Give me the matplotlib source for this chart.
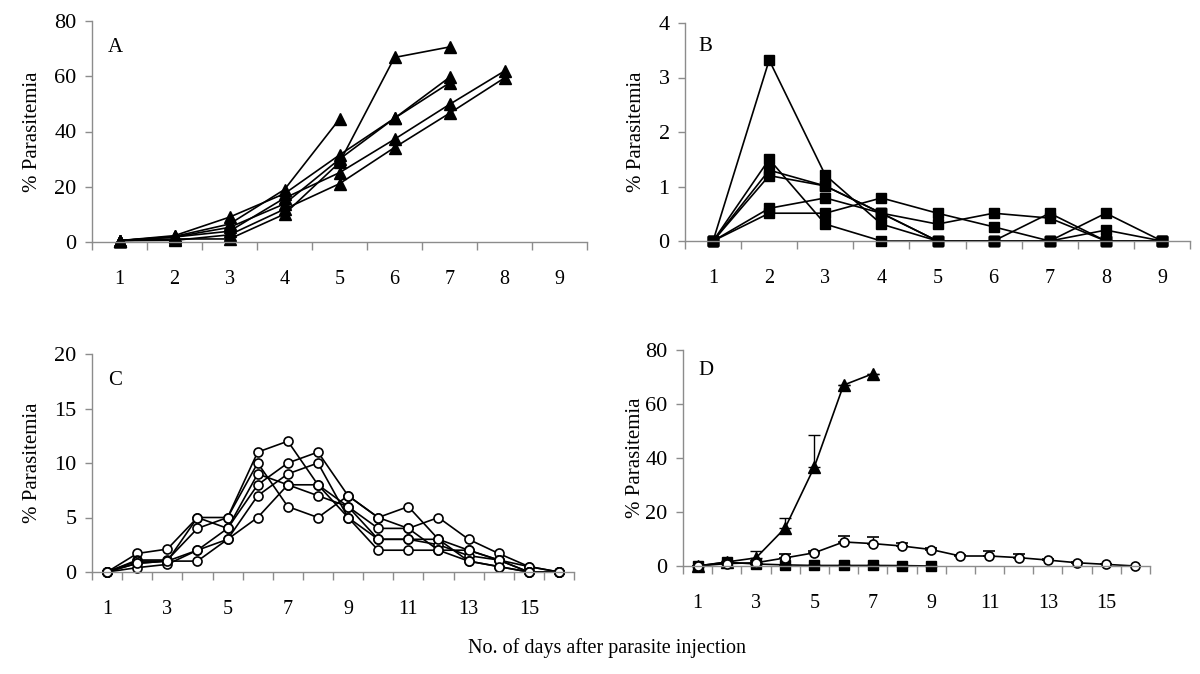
#!/usr/bin/env python3
"""Parasitemia time courses, four panels (A-D), Excel-style category axes."""

import matplotlib

matplotlib.use("Agg")
import matplotlib.pyplot as plt
import numpy as np

plt.rcParams["font.family"] = ["Liberation Serif", "DejaVu Serif"]

# ---- data -------------------------------------------------------------
# Panel A: individual mice, triangles (days 1..n)
a_series = [
    [0.5, 2.0, 6.5, 19.0, 44.5],
    [0.5, 1.1, 1.1, 10.1, 28.8, 66.8, 70.6],
    [0.5, 2.3, 9.0, 17.5, 31.5, 44.8, 59.6],
    [0.5, 1.8, 5.3, 13.8, 30.0, 44.8, 57.6],
    [0.5, 1.8, 3.9, 15.9, 25.1, 37.2, 49.8, 61.9],
    [0.5, 0.6, 2.6, 11.9, 21.1, 34.2, 46.6, 59.4],
]

# Panel B: individual mice, squares (days 1..9)
b_series = [
    [0, 3.32, 1.21, 0.31, 0, 0, 0, 0.51, 0],
    [0, 1.50, 0.31, 0, 0, 0, 0.51, 0, 0],
    [0, 1.30, 1.01, 0.51, 0, 0, 0, 0.20, 0],
    [0, 1.20, 1.01, 0.51, 0, 0, 0, 0, 0],
    [0, 0.60, 0.79, 0.51, 0.31, 0.51, 0.42, 0, 0],
    [0, 0.51, 0.51, 0.79, 0.51, 0.26, 0, 0, 0],
]

# Panel C: individual mice, open circles (days 1..16)
c_series = [
    [0, 1.7, 2.1, 5, 5, 11, 12, 8, 6, 4, 4, 5, 3, 1.7, 0.5, 0],
    [0, 1.1, 1.1, 4, 5, 10, 6, 5, 7, 5, 6, 3, 2, 1.1, 0.5, 0],
    [0, 1.0, 1.0, 2, 4, 9, 8, 7, 6, 3, 3, 2.5, 1.5, 1.1, 0, 0],
    [0, 0.8, 1.0, 5, 4, 8, 10, 11, 7, 5, 4, 2, 1, 0.5, 0, 0],
    [0, 0.4, 0.7, 2, 3, 7, 9, 10, 5, 2, 2, 2, 2, 1.1, 0, 0],
    [0, 0.8, 1.0, 1, 3, 5, 8, 8, 5, 3, 3, 3, 1, 0.5, 0, 0],
]

# Panel D: group means with upper error bars
d_tri_mean = [0, 1.5, 3.0, 14.1, 36.7, 67.0, 71.2]
d_tri_err = [0, 0.5, 2.6, 3.8, 11.8, 0, 0]
d_sq_mean = [0, 1.4, 0.75, 0.4, 0.2, 0.2, 0.2, 0.15, 0]
d_sq_err = [0, 0.6, 0.3, 0, 0, 0, 0, 0, 0]
d_circ_mean = [0, 0.9, 1.2, 3.0, 4.9, 8.9, 8.3, 7.4, 6.1, 3.7, 3.7, 3.1, 2.2, 1.2, 0.6, 0]
d_circ_err = [0, 0.3, 0.5, 1.3, 0.8, 2.3, 2.5, 1.0, 0.7, 0.5, 1.9, 1.5, 0.5, 0.3, 0.2, 0]

AXIS_GREY = "#8c8c8c"
LW = 1.2


def days(values):
    return np.arange(1, len(values) + 1)


def style_axes(ax, n_cat, ymax, ystep, label_every, letter, letter_xy, ylabel_x):
    ax.set_xlim(0.5, n_cat + 0.5)
    ax.set_ylim(0, ymax)
    for side in ("top", "right"):
        ax.spines[side].set_visible(False)
    for side in ("left", "bottom"):
        ax.spines[side].set_color(AXIS_GREY)
        ax.spines[side].set_linewidth(1.0)

    # tick marks on category boundaries, labels in the middle of categories
    ax.set_xticks(np.arange(0.5, n_cat + 1.0, 1.0))
    ax.set_xticklabels([])
    ax.tick_params(axis="x", which="major", length=6, width=1.0, color=AXIS_GREY)
    centers = np.arange(1, n_cat + 1, label_every)
    ax.set_xticks(centers, minor=True)
    ax.set_xticklabels([str(c) for c in centers], minor=True)
    ax.tick_params(axis="x", which="minor", length=0, pad=20, labelsize=14.5)

    ax.set_yticks(np.arange(0, ymax + ystep / 2, ystep))
    ax.tick_params(axis="y", length=5, width=1.0, color=AXIS_GREY, pad=6, labelsize=16)

    ax.set_ylabel("% Parasitemia", fontsize=15)
    ax.yaxis.set_label_coords(ylabel_x, 0.5)
    ax.text(*letter_xy, letter, transform=ax.transAxes, fontsize=15, ha="center", va="center")


def main() -> int:
    fig = plt.figure(figsize=(12, 6.74), dpi=100)

    ax_a = fig.add_axes([92 / 1200, 1 - 242 / 674, 495 / 1200, 221 / 674])
    ax_b = fig.add_axes([685 / 1200, 1 - 241 / 674, 505 / 1200, 218 / 674])
    ax_c = fig.add_axes([92 / 1200, 1 - 572 / 674, 482 / 1200, 218 / 674])
    ax_d = fig.add_axes([683 / 1200, 1 - 566 / 674, 467 / 1200, 216 / 674])

    for s in a_series:
        ax_a.plot(days(s), s, color="black", lw=LW, marker="^", ms=8.5,
                  mfc="black", mec="black", clip_on=False)
    style_axes(ax_a, 9, 80, 20, 1, "A", (0.048, 0.882), -0.101)

    for s in b_series:
        ax_b.plot(days(s), s, color="black", lw=LW, marker="s", ms=7,
                  mfc="black", mec="black", clip_on=False)
    style_axes(ax_b, 9, 4, 1, 1, "B", (0.04, 0.89), -0.077)

    for s in c_series:
        ax_c.plot(days(s), s, color="black", lw=LW, marker="o", ms=6.5,
                  mfc="white", mec="black", mew=1.2, clip_on=False)
    style_axes(ax_c, 16, 20, 5, 2, "C", (0.048, 0.88), -0.104)

    ekw = dict(color="black", ecolor="black", elinewidth=1.0, capsize=4,
               capthick=1.0, lw=LW, clip_on=False)
    ax_d.errorbar(days(d_tri_mean), d_tri_mean,
                  yerr=[np.zeros(len(d_tri_err)), d_tri_err],
                  marker="^", ms=8.5, mfc="black", mec="black", **ekw)
    ax_d.errorbar(days(d_sq_mean), d_sq_mean,
                  yerr=[np.zeros(len(d_sq_err)), d_sq_err],
                  marker="s", ms=7, mfc="black", mec="black", **ekw)
    ax_d.errorbar(days(d_circ_mean), d_circ_mean,
                  yerr=[np.zeros(len(d_circ_err)), d_circ_err],
                  marker="o", ms=6.5, mfc="white", mec="black", mew=1.2, **ekw)
    style_axes(ax_d, 16, 80, 20, 2, "D", (0.049, 0.907), -0.081)

    fig.text(607 / 1200, 1 - 648 / 674, "No. of days after parasite injection",
             ha="center", va="center", fontsize=14.5)

    fig.savefig("out.png", dpi=100)
    plt.close(fig)
    return 0


if __name__ == "__main__":
    raise SystemExit(main())
